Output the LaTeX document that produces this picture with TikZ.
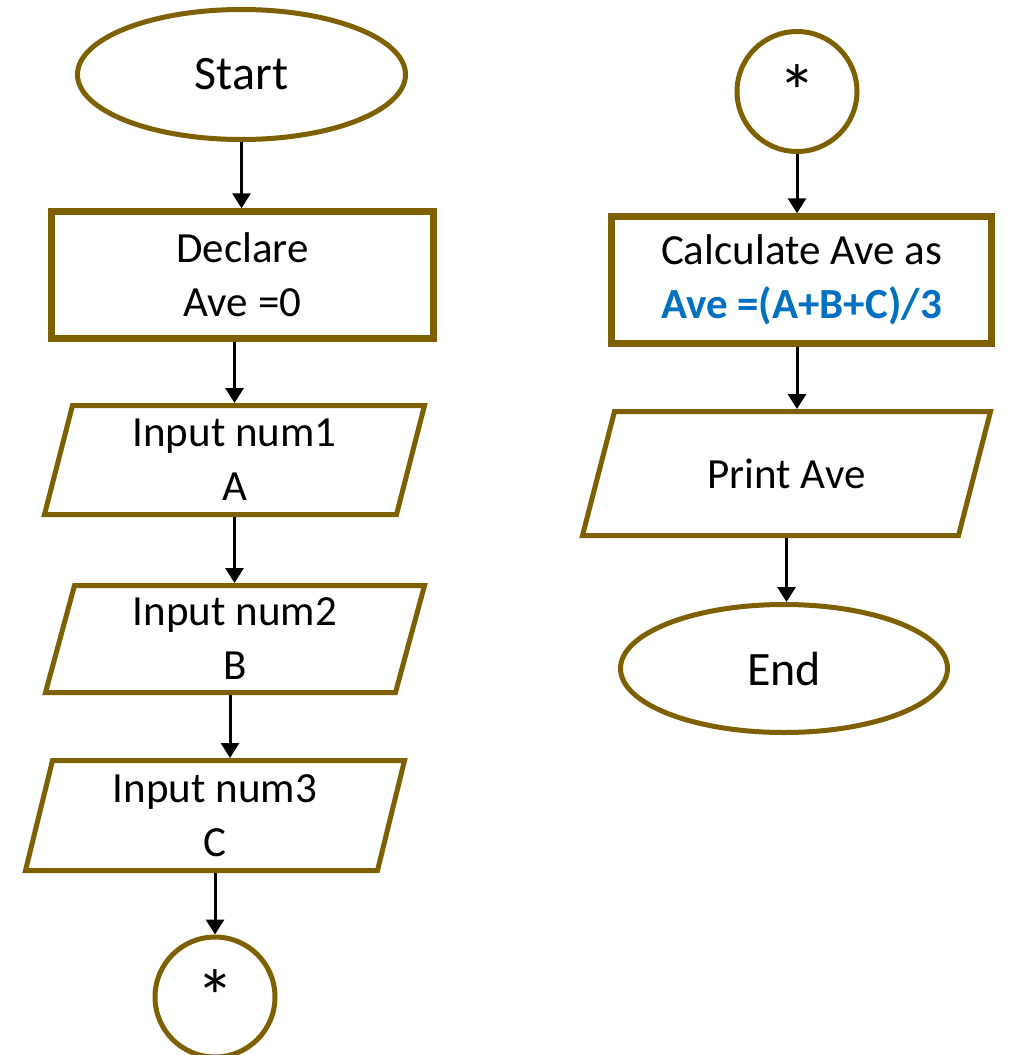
\documentclass[tikz,border=0pt]{standalone}
\usepackage{fontspec}
\setmainfont{Carlito}
\usetikzlibrary{shapes.geometric,arrows.meta}
\definecolor{olivebrown}{HTML}{7F6000}
\definecolor{formulablue}{HTML}{0070C0}
\tikzset{
  base/.style={draw=olivebrown, inner sep=0pt, align=center, font=\fontsize{43}{54}\selectfont},
  terminal/.style={base, ellipse, line width=5pt, font=\fontsize{48}{58}\selectfont},
  process/.style={base, rectangle, line width=6.5pt},
  io/.style={base, draw=none, rectangle, outer sep=0pt},
  iopath/.style={draw=olivebrown, line width=5pt, line join=miter},
  connector/.style={base, circle, line width=5pt, minimum size=120pt, font=\fontsize{76}{80}\selectfont},
  flow/.style={-{Triangle[width=18pt,length=15pt]}, line width=3pt}
}

\begin{document}
\begin{tikzpicture}[x=1pt,y=-1pt]
  \useasboundingbox (0,0) rectangle (1010,1055);
  % left column
  \node[terminal, minimum width=328pt, minimum height=130pt] (start) at (241.5,74.5) {Start};
  \node[process, minimum width=382pt, minimum height=127pt] (declare) at (242.5,275) {Declare\\Ave =0};
  \node[io, minimum width=380pt, minimum height=109pt] (num1) at (234.5,460) {Input num1\\A};
  \node[io, minimum width=379pt, minimum height=107pt] (num2) at (235,639) {Input num2\\B};
  \node[io, minimum width=379pt, minimum height=110pt] (num3) at (215,815.5) {Input num3\\C};
  \node[connector] (lconn) at (215,997) {*};
  % right column
  \node[connector] (rconn) at (797,91.5) {*};
  \node[process, minimum width=380pt, minimum height=127pt] (calc) at (801.5,280)
    {Calculate Ave as\\{\bfseries\color{formulablue}Ave =(A+B+C)/3}};
  \node[io, minimum width=408pt, minimum height=124pt] (print) at (786.5,473.5) {Print Ave};
  \node[terminal, minimum width=327pt, minimum height=128pt] (finish) at (784,668.5) {End};
  % input/output boxes, slanted to the right
  \foreach \n/\s in {num1/28, num2/29, num3/27, print/32}
    \draw[iopath] ([xshift=\s pt]\n.north west) -- (\n.north east)
      -- ([xshift=-\s pt]\n.south east) -- (\n.south west) -- cycle;
  % arrows
  \draw[flow] (start.south) -- (start.south |- declare.north);
  \draw[flow] (num1.north |- declare.south) -- ([yshift=2.5pt]num1.north);
  \draw[flow] ([yshift=-2.5pt]num1.south) -- ([yshift=2.5pt]num1.south |- num2.north);
  \draw[flow] ([xshift=-5pt,yshift=-2.5pt]num2.south) -- ([xshift=-5pt,yshift=2.5pt]num2.south |- num3.north);
  \draw[flow] ([yshift=-2.5pt]num3.south) -- (num3.south |- lconn.north);
  \draw[flow] (rconn.south) -- (rconn.south |- calc.north);
  \draw[flow] (rconn.south |- calc.south) -- ([yshift=2.5pt]rconn.south |- print.north);
  \draw[flow] ([yshift=-2.5pt]print.south) -- (print.south |- finish.north);
\end{tikzpicture}
\end{document}
